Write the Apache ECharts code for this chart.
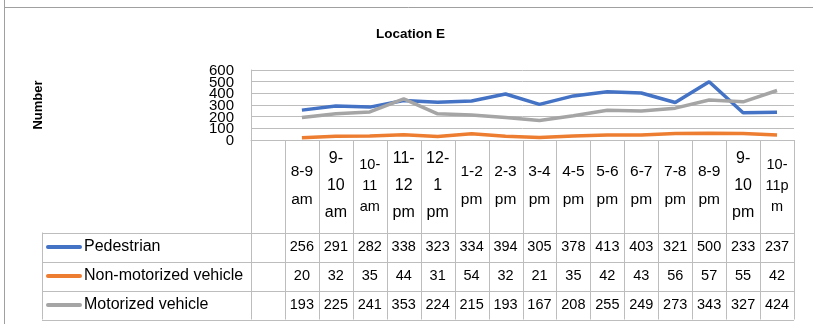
<!DOCTYPE html>
<html>
<head>
<meta charset="utf-8">
<script src="https://cdn.jsdelivr.net/npm/echarts@6/dist/echarts.min.js"></script>
<style>
  html, body { margin: 0; padding: 0; background: #fff; }
  #chart { width: 813px; height: 324px; }
</style>
</head>
<body>
<div id="chart"></div>
<script>
// Hourly counts at Location E, shown as lines with a data table underneath
const hourLabels = ['', '8-9\nam', '9-\n10\nam', '10-\n11\nam', '11-\n12\npm', '12-\n1\npm',
  '1-2\npm', '2-3\npm', '3-4\npm', '4-5\npm', '5-6\npm', '6-7\npm', '7-8\npm', '8-9\npm',
  '9-\n10\npm', '10-\n11p\nm'];
const seriesNames = ['Pedestrian', 'Non-motorized vehicle', 'Motorized vehicle'];
const pedestrian   = [256, 291, 282, 338, 323, 334, 394, 305, 378, 413, 403, 321, 500, 233, 237];
const nonMotorized = [20, 32, 35, 44, 31, 54, 32, 21, 35, 42, 43, 56, 57, 55, 42];
const motorized    = [193, 225, 241, 353, 224, 215, 193, 167, 208, 255, 249, 273, 343, 327, 424];
const yTicks = [0, 100, 200, 300, 400, 500, 600];

const seriesValues = [pedestrian, nonMotorized, motorized];
const colors = ['#4472C4', '#ED7D31', '#A5A5A5'];
const FONT = 'Liberation Sans';
const GRID = { left: 251, right: 19, top: 70, bottom: 184 };
const W = 813, H = 324;
const TABLE_HEAD_BOTTOM = 232.5, ROW_H = 29, LEGEND_LEFT = 42;
const LINE_GRAY = '#bdbdbd';

const chart = echarts.init(document.getElementById('chart'), null, { renderer: 'canvas' });

function headerLabel(value) {
  if (!value) return '';
  const lines = value.split('\n');
  const key = value.indexOf('10-') === 0 ? 'n' : (lines.length === 2 ? 'h2' : 'h');
  return lines.map(l => '{' + key + '|' + l + '}').join('\n');
}

chart.setOption({
  animation: false,
  backgroundColor: '#fff',
  title: {
    text: 'Location E', left: 376, top: 27, padding: 0,
    textStyle: { fontFamily: FONT, fontSize: 13.5, fontWeight: 'bold', color: '#000' }
  },
  grid: GRID,
  xAxis: {
    type: 'category',
    data: hourLabels,
    boundaryGap: true,
    axisLine: { lineStyle: { color: LINE_GRAY, width: 1 } },
    axisTick: { show: false },
    axisLabel: {
      interval: 0, margin: 46, verticalAlign: 'middle', color: '#000', hideOverlap: false,
      formatter: headerLabel,
      rich: {
        h:  { fontFamily: FONT, fontSize: 16, lineHeight: 27, color: '#000', align: 'center' },
        h2: { fontFamily: FONT, fontSize: 15.5, lineHeight: 28, color: '#000', align: 'center' },
        n:  { fontFamily: FONT, fontSize: 14.5, lineHeight: 21, color: '#000', align: 'center' }
      }
    }
  },
  yAxis: {
    type: 'value', min: yTicks[0], max: yTicks[yTicks.length - 1], interval: 100,
    name: 'Number', nameLocation: 'middle', nameRotate: 90, nameGap: 206,
    nameTextStyle: { fontFamily: FONT, fontSize: 13, fontWeight: 'bold', color: '#000' },
    axisLine: { show: true, lineStyle: { color: LINE_GRAY, width: 1 } },
    axisTick: { show: false },
    // tick labels sit closer together than their text height, drawn below
    axisLabel: { show: false },
    splitLine: { lineStyle: { color: LINE_GRAY, width: 1 } }
  },
  series: seriesNames.map((name, k) => ({
    name, type: 'line',
    data: [null].concat(seriesValues[k]),
    symbol: 'none',
    lineStyle: { color: colors[k], width: 3.5 },
    itemStyle: { color: colors[k] }
  }))
});

// Data table under the plot: column grid, legend keys and values
const band = (W - GRID.left - GRID.right) / hourLabels.length;
const tableRight = W - GRID.right;
const plotBottom = H - GRID.bottom;
const tableBottom = TABLE_HEAD_BOTTOM + ROW_H * seriesNames.length;
const g = [];
const line = (x1, y1, x2, y2, color, w) => g.push({
  type: 'line', silent: true,
  shape: { x1, y1, x2, y2 },
  style: { stroke: color || LINE_GRAY, lineWidth: w || 1 }
});

// y tick labels, placed through the value axis
yTicks.forEach(t => {
  const y = chart.convertToPixel({ yAxisIndex: 0 }, t);
  g.push({
    type: 'text', silent: true, x: GRID.left - 17, y: y + 1,
    style: { text: String(t), fontFamily: FONT, fontSize: 15, fill: '#000',
      align: 'right', verticalAlign: 'middle' }
  });
});

// chart frame
line(4.5, 0, 4.5, H, '#a0a0a0');
line(4.5, 7.5, W, 7.5, '#a0a0a0');

// vertical column borders
for (let i = 0; i <= hourLabels.length; i++) {
  const x = Math.round(GRID.left + i * band) + 0.5;
  line(x, plotBottom, x, tableBottom);
}
line(LEGEND_LEFT + 0.5, TABLE_HEAD_BOTTOM, LEGEND_LEFT + 0.5, tableBottom);
// horizontal row borders
for (let r = 0; r <= seriesNames.length; r++) {
  const y = Math.round(TABLE_HEAD_BOTTOM + r * ROW_H) + 0.5;
  line(LEGEND_LEFT, y, tableRight, y);
}

seriesNames.forEach((name, k) => {
  const cy = TABLE_HEAD_BOTTOM + (k + 0.5) * ROW_H;
  g.push({
    type: 'rect', silent: true,
    shape: { x: 46, y: cy - 2, width: 36, height: 4, r: 2 },
    style: { fill: colors[k] }
  });
  g.push({
    type: 'text', silent: true, x: 84, y: cy,
    style: { text: name, fontFamily: FONT, fontSize: 16, fill: '#000', verticalAlign: 'middle' }
  });
  seriesValues[k].forEach((v, i) => {
    g.push({
      type: 'text', silent: true,
      x: GRID.left + (i + 1.5) * band, y: cy,
      style: { text: String(v), fontFamily: FONT, fontSize: 14.5, fill: '#000',
        align: 'center', verticalAlign: 'middle' }
    });
  });
});

chart.setOption({ graphic: { elements: g } });
</script>
</body>
</html>
